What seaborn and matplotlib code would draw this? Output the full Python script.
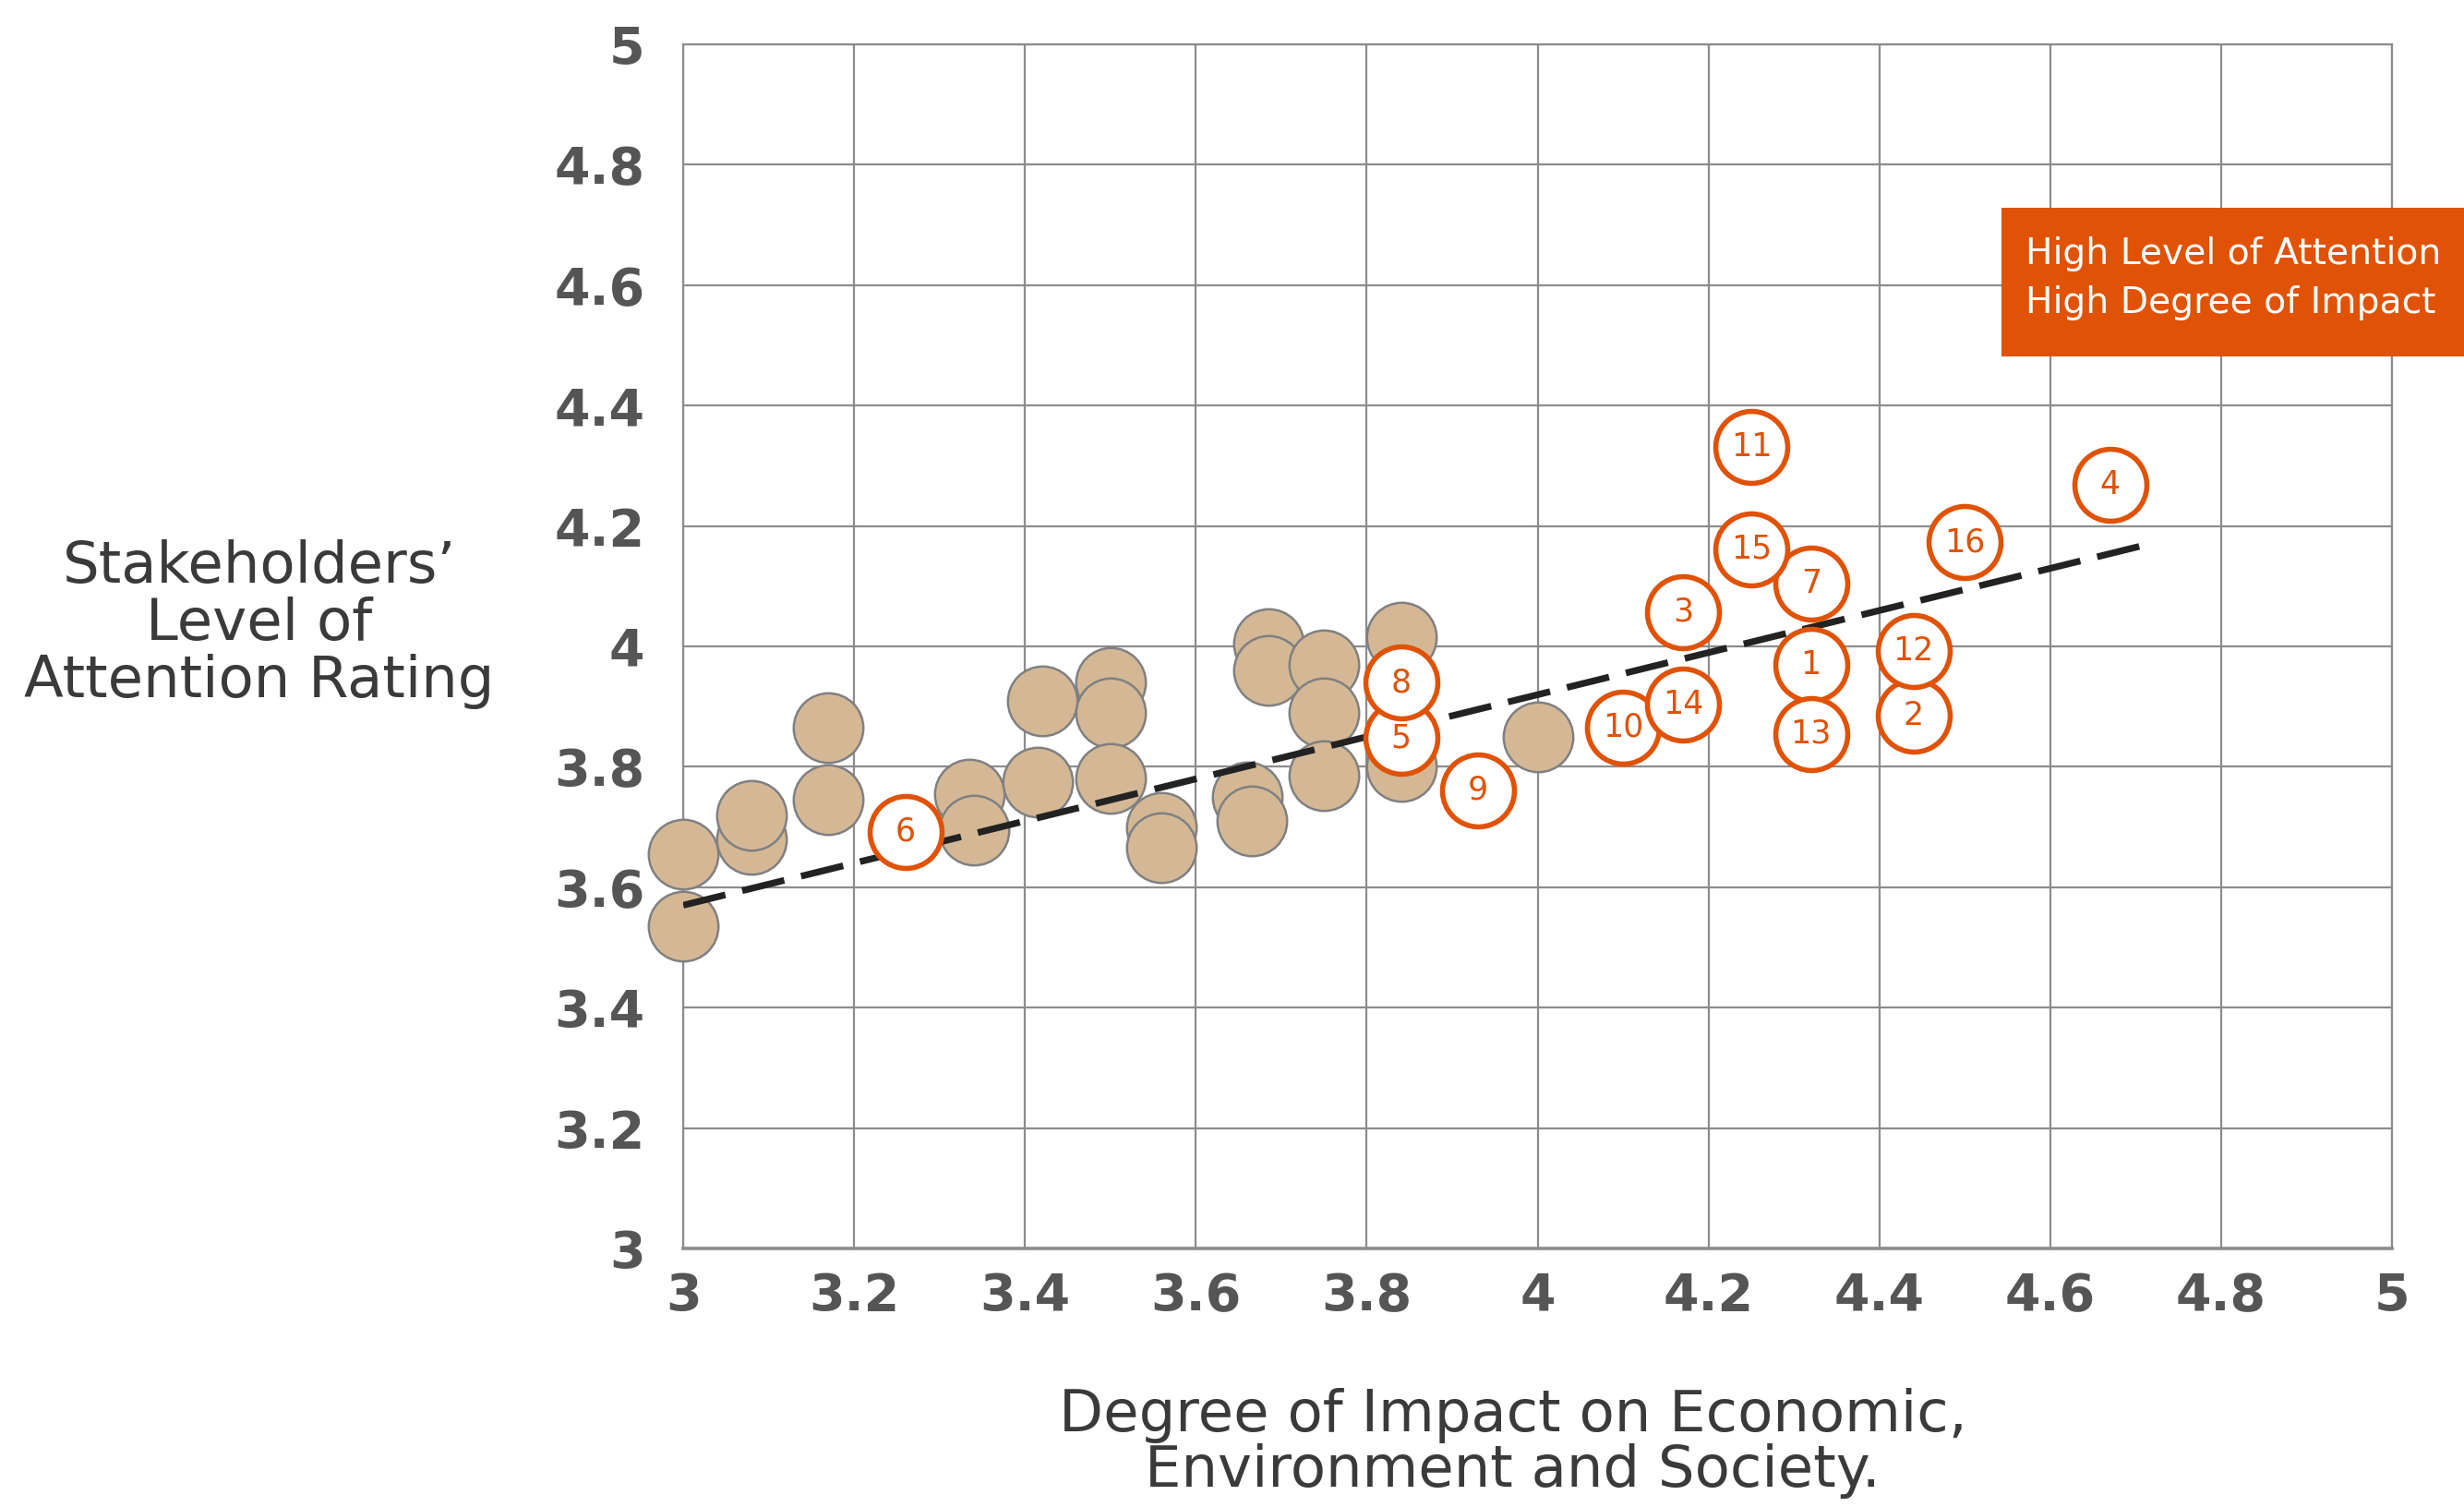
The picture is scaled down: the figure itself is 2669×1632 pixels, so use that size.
import numpy as np
import matplotlib
matplotlib.use("Agg")
import matplotlib.pyplot as plt
import seaborn as sns
from matplotlib.patches import Rectangle

# ---------------- data ----------------
tan_x = [3.00, 3.00, 3.08, 3.08, 3.17, 3.17, 3.335, 3.34, 3.42, 3.415, 3.50, 3.50, 3.50,
         3.56, 3.56, 3.66, 3.665, 3.685, 3.685, 3.75, 3.75, 3.75, 3.84, 3.84, 4.00]
tan_y = [3.535, 3.655, 3.68, 3.72, 3.865, 3.745, 3.755, 3.695, 3.91, 3.775, 3.94, 3.89, 3.78,
         3.70, 3.665, 3.75, 3.71, 4.005, 3.96, 3.97, 3.89, 3.785, 4.015, 3.80, 3.85]

hi_labels = ["1", "2", "3", "4", "5", "6", "7", "8", "9", "10", "11", "12", "13", "14", "15", "16"]
hi_x = [4.32, 4.44, 4.17, 4.67, 3.84, 3.26, 4.32, 3.84, 3.93, 4.10, 4.25, 4.44, 4.32, 4.17, 4.25, 4.50]
hi_y = [3.97, 3.885, 4.057, 4.268, 3.848, 3.692, 4.105, 3.94, 3.761, 3.865, 4.331, 3.992, 3.855,
        3.904, 4.161, 4.173]

trend_x = [3.0, 4.71]
trend_y = [3.57, 4.168]

tick_vals = [3.0, 3.2, 3.4, 3.6, 3.8, 4.0, 4.2, 4.4, 4.6, 4.8, 5.0]
tick_labels = ["3", "3.2", "3.4", "3.6", "3.8", "4", "4.2", "4.4", "4.6", "4.8", "5"]

x_title = "Degree of Impact on Economic,\nEnvironment and Society."
y_title = "Stakeholders\u2019\nLevel of\nAttention Rating"
legend_text = "High Level of Attention\nHigh Degree of Impact"

# ---------------- style ----------------
TAN = "#D4B896"
TAN_EDGE = "#808080"
ORANGE = "#E05206"
GRID = "#8C8C8C"
TICK_COL = "#555555"
TITLE_COL = "#3A3A3A"

sns.set_theme(style="white")
plt.rcParams["font.family"] = ["DejaVu Sans"]

fig = plt.figure(figsize=(26.69, 16.32), dpi=100)
ax = fig.add_axes([0.2773, 0.1716, 0.6935, 0.799])

ax.set_xlim(3, 5)
ax.set_ylim(3, 5)
ax.set_xticks(tick_vals)
ax.set_xticklabels(tick_labels)
ax.set_yticks(tick_vals)
ax.set_yticklabels(tick_labels)
ax.grid(True, color=GRID, linewidth=1.6, zorder=0)
ax.set_axisbelow(True)
for sp in ax.spines.values():
    sp.set_color(GRID)
    sp.set_linewidth(1.6)
ax.spines["bottom"].set_linewidth(2.6)
ax.tick_params(axis="both", length=0, labelsize=40, labelcolor=TICK_COL)
ax.tick_params(axis="y", pad=30)
ax.tick_params(axis="x", pad=18)
for lab in ax.get_xticklabels() + ax.get_yticklabels():
    lab.set_fontweight("bold")

# tan points
sns.scatterplot(x=tan_x, y=tan_y, s=2950, color=TAN, edgecolor=TAN_EDGE,
                linewidth=1.8, ax=ax, zorder=3, clip_on=False, legend=False)

# trend line
ax.plot(trend_x, trend_y, color="#222222", linewidth=5.2, dashes=(6.5, 2.6),
        zorder=4, solid_capstyle="butt", dash_capstyle="butt")

# highlighted points
sns.scatterplot(x=hi_x, y=hi_y, s=3150, color="white", edgecolor=ORANGE,
                linewidth=4.0, ax=ax, zorder=5, clip_on=False, legend=False)
for lab, xv, yv in zip(hi_labels, hi_x, hi_y):
    ax.text(xv, yv, lab, ha="center", va="center", color=ORANGE, fontsize=25,
            zorder=6)

ax.set_xlabel("")
ax.set_ylabel("")

# axis titles
fig.text(0.1053, 0.5858, y_title, ha="center", va="center", multialignment="center",
         fontsize=45, color=TITLE_COL, linespacing=1.05)
fig.text(0.614, 0.0423, x_title, ha="center", va="center", multialignment="center",
         fontsize=45, color=TITLE_COL, linespacing=1.0)

# legend box
fig.patches.append(Rectangle((0.8123, 0.7635), 0.1877, 0.0986, transform=fig.transFigure,
                             facecolor=ORANGE, edgecolor="none", zorder=10))
fig.text(0.822, 0.8155, legend_text, ha="left", va="center", fontsize=28.3,
         color="white", linespacing=1.5, zorder=11)

fig.savefig("out.png", dpi=100)
